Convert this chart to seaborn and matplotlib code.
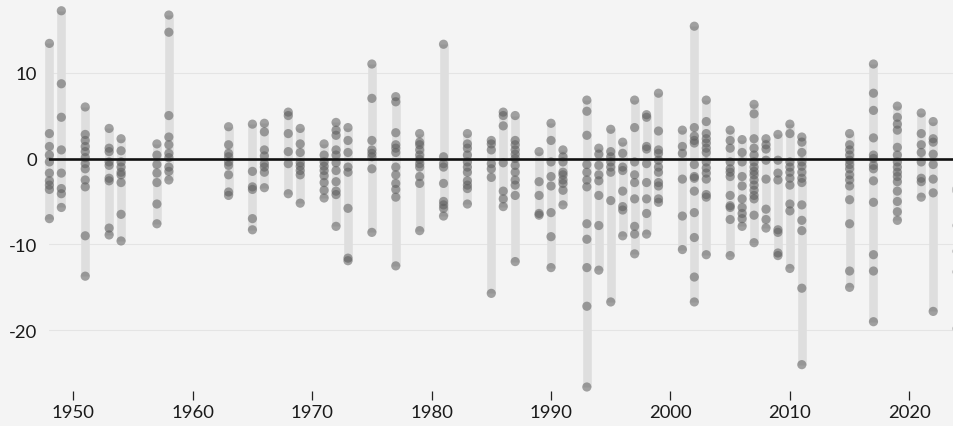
import matplotlib
matplotlib.use("Agg")
import matplotlib.pyplot as plt
import pandas as pd
import seaborn as sns

# ---- data: individual values per year, grouped by decade ----
values_1940s = {
    1948: [13.4, 2.9, 1.4, 0.4, -0.4, -1.7, -2.6, -3.1, -3.6, -7.0],
    1949: [17.2, 8.7, 4.8, 1.0, -1.7, -3.5, -4.1, -5.7],
}
values_1950s = {
    1951: [6.0, 2.8, 2.1, 1.4, 0.8, 0.1, -0.6, -1.2, -2.5, -3.3, -9.0, -13.7],
    1953: [3.5, 1.2, 0.8, -0.4, -0.8, -2.3, -2.6, -8.1, -8.9],
    1954: [2.3, 0.9, -0.4, -1.0, -1.6, -1.9, -2.8, -6.5, -9.6],
    1957: [1.7, 0.4, -0.7, -1.7, -2.8, -5.3, -7.6],
    1958: [16.7, 14.7, 5.0, 2.5, 1.6, 0.6, 0.1, -1.0, -1.5, -2.5],
}
values_1960s = {
    1963: [3.7, 1.6, 0.6, 0.2, -0.4, -0.8, -1.9, -3.9, -4.3],
    1965: [4.0, -1.5, -3.3, -3.6, -7.0, -8.3],
    1966: [4.1, 3.1, 1.0, 0.3, -0.6, -1.0, -1.6, -3.4],
    1968: [5.4, 5.0, 2.9, 0.8, -0.6, -4.1],
    1969: [3.5, 1.7, 0.7, -0.5, -0.9, -1.4, -1.9, -5.2],
}
values_1970s = {
    1971: [1.7, 0.4, -0.4, -0.9, -1.4, -2.0, -2.8, -3.7, -4.6],
    1972: [4.2, 3.3, 2.7, 1.0, 0.4, -0.5, -1.4, -2.7, -3.8, -4.2, -7.9],
    1973: [3.6, 2.1, 0.7, -1.0, -1.6, -5.8, -11.6, -11.9],
    1975: [11.0, 7.0, 2.1, 1.0, 0.6, 0.2, -1.2, -8.6],
    1977: [7.2, 6.6, 3.0, 1.6, 1.2, 0.7, -1.0, -1.9, -2.9, -3.6, -4.5, -12.5],
    1979: [2.9, 1.9, 1.6, 1.0, 0.4, -0.1, -0.6, -1.0, -2.1, -2.9, -8.4],
}
values_1980s = {
    1981: [13.3, 0.2, -0.6, -1.0, -2.9, -5.0, -5.4, -5.8, -6.7],
    1983: [2.9, 1.7, 1.2, 0.4, -0.4, -1.0, -1.6, -2.6, -3.1, -3.5, -5.3],
    1985: [2.1, 1.7, 1.0, -0.6, -1.2, -2.2, -15.7],
    1986: [5.4, 5.0, 3.8, -0.5, -3.8, -4.7, -5.6],
    1987: [5.0, 2.1, 1.6, 1.0, 0.5, 0.0, -0.8, -1.6, -2.5, -3.1, -4.3, -12.0],
    1989: [0.8, -2.7, -4.3, -6.4, -6.6],
}
values_1990s = {
    1990: [4.1, 2.1, -0.4, -2.1, -3.2, -6.3, -9.1, -12.7],
    1991: [1.0, 0.2, -0.4, -1.6, -1.9, -2.5, -2.9, -3.7, -5.4],
    1993: [6.8, 5.5, 2.7, -0.7, -1.6, -2.5, -3.3, -7.6, -9.4, -12.7, -17.2, -26.6],
    1994: [1.2, 0.5, -0.8, -1.9, -2.6, -4.3, -7.8, -13.0],
    1995: [3.4, 0.8, 0.2, -0.4, -1.0, -1.6, -4.9, -16.7],
    1996: [1.9, 0.6, -1.0, -1.4, -3.8, -5.6, -6.0, -9.0],
    1997: [6.8, 3.6, -0.4, -1.9, -2.8, -4.7, -7.9, -8.8, -11.1],
    1998: [5.1, 4.8, 1.4, 1.1, -0.6, -2.8, -4.7, -6.4, -8.8],
    1999: [7.6, 3.2, 1.0, 0.6, -0.2, -1.0, -1.6, -2.8, -3.2, -4.7, -5.1],
}
values_2000s = {
    2001: [3.3, 1.4, 0.6, -2.4, -6.7, -10.6],
    2002: [15.4, 3.6, 2.6, 2.1, 1.8, -0.7, -2.1, -2.3, -3.8, -6.3, -9.2, -13.8, -16.7],
    2003: [6.8, 4.3, 2.9, 2.3, 1.8, 1.2, 0.7, -0.4, -1.1, -1.7, -2.4, -4.2, -4.5, -11.2],
    2005: [3.3, 2.1, 1.2, -0.4, -1.2, -1.6, -2.1, -4.3, -5.5, -5.7, -7.1, -11.3],
    2006: [2.2, 0.7, -0.4, -2.1, -3.2, -4.7, -5.7, -6.4, -7.0, -7.9],
    2007: [6.3, 5.2, 2.3, 1.2, 0.4, -0.4, -1.0, -1.5, -1.9, -2.5, -3.1, -3.7, -4.3, -4.7, -6.6, -9.8],
    2008: [2.3, 1.6, 1.1, -0.2, -2.4, -5.9, -7.1, -8.1],
    2009: [2.8, -0.2, -1.7, -2.5, -8.3, -8.6, -11.0, -11.3],
}
values_2010s = {
    2010: [4.0, 2.9, -0.4, -1.0, -1.6, -2.3, -3.1, -5.3, -6.1, -12.8],
    2011: [2.5, 1.9, 0.7, -0.4, -0.9, -1.6, -2.3, -2.8, -5.4, -7.2, -8.4, -15.1, -24.0],
    2015: [2.9, 1.6, 1.0, 0.4, -0.2, -0.7, -1.2, -1.9, -2.5, -3.2, -4.8, -7.6, -13.1, -15.0],
    2017: [11.0, 7.6, 5.6, 2.4, 0.4, 0.0, -0.8, -1.2, -2.6, -5.1, -11.2, -13.1, -19.0],
    2019: [6.1, 4.8, 4.0, 3.3, 1.3, 0.4, -0.4, -1.0, -1.6, -2.1, -2.7, -3.8, -5.0, -6.2, -7.2],
}
values_2020s = {
    2021: [5.3, 2.9, 1.6, 0.7, -0.4, -2.3, -2.7, -4.5],
    2022: [4.3, 2.3, 1.9, 0.5, -0.7, -2.4, -4.0, -17.8],
    2024: [-3.5, -3.8, -7.8, -10.8, -13.2, -19.8],
}

x_tick_years = [1950, 1960, 1970, 1980, 1990, 2000, 2010, 2020]
y_tick_values = [10, 0, -10, -20]
y_tick_labels = ["10", "0", "-10", "-20"]

# ---- build table ----
rows = []
for decade in (values_1940s, values_1950s, values_1960s, values_1970s,
               values_1980s, values_1990s, values_2000s, values_2010s,
               values_2020s):
    for yr, vals in decade.items():
        for v in vals:
            rows.append((yr, v))
df = pd.DataFrame(rows, columns=["year", "value"])
ranges = df.groupby("year")["value"].agg(["min", "max"]).reset_index()

# ---- styling ----
sns.set_theme(style="white")
plt.rcParams["font.family"] = ["Lato", "DejaVu Sans"]

W, H = 954, 427
fig = plt.figure(figsize=(W / 100, H / 100), dpi=100)
bg = "#f4f4f4"
fig.patch.set_facecolor(bg)

ax_left_px, ax_bottom_px_from_top = 49.4, 392
px_per_year, px_per_unit, zero_px = 11.943, 8.59, 159.5
ax = fig.add_axes([ax_left_px / W, (H - ax_bottom_px_from_top) / H,
                   (W - ax_left_px) / W, ax_bottom_px_from_top / H])
ax.set_facecolor("none")
ax.set_xlim(1948, 1948 + (W - ax_left_px) / px_per_year)
ax.set_ylim(-(ax_bottom_px_from_top - zero_px) / px_per_unit, zero_px / px_per_unit)

for g in [10, -10, -20]:
    ax.axhline(g, color="#e4e4e4", lw=0.8, zorder=0)

ax.vlines(ranges["year"], ranges["min"], ranges["max"], color="#dedede",
          lw=6.2, zorder=1, clip_on=False)

sns.scatterplot(data=df, x="year", y="value", ax=ax, color="#5c5c5c",
                alpha=0.55, s=44, edgecolor="none", linewidth=0, zorder=2,
                clip_on=False, legend=False)

ax.axhline(0, color="#111111", lw=1.9, zorder=3)

for s in ax.spines.values():
    s.set_visible(False)
ax.set_xlabel("")
ax.set_ylabel("")
ax.set_xticks(x_tick_years)
ax.set_xticklabels([str(y) for y in x_tick_years])
ax.set_yticks(y_tick_values)
ax.set_yticklabels(y_tick_labels)
ax.tick_params(axis="x", bottom=True, direction="out", length=6.5, width=0.9,
               color="#222222", pad=3, labelsize=13.3, labelcolor="#1a1a1a")
ax.tick_params(axis="y", left=False, length=0, pad=9, labelsize=13.3,
               labelcolor="#1a1a1a")
ax.grid(False)

fig.savefig("out.png", dpi=100, facecolor=bg)
